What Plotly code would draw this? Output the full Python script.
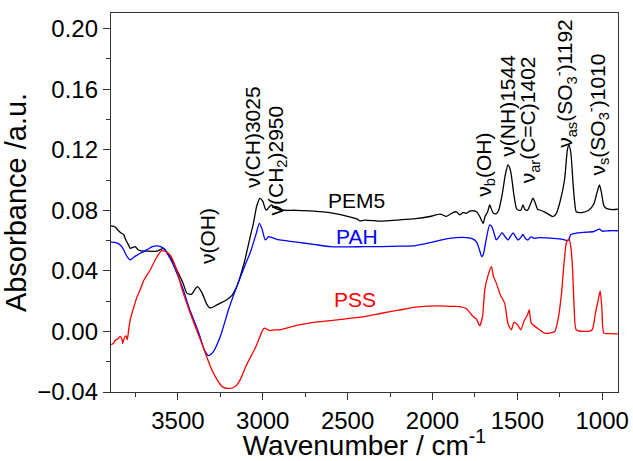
import plotly.graph_objects as go

# FTIR spectra: wavenumber (cm-1) and absorbance (a.u.)
pem5_wn = [3894, 3870, 3850, 3835, 3820, 3805, 3790, 3781, 3765, 3751, 3735, 3722, 3680, 3624,
           3585, 3550, 3506, 3470, 3447, 3420, 3395, 3385, 3360, 3330, 3310, 3270, 3212, 3180,
           3153, 3110, 3075, 3055, 3035, 3016, 3000, 2985, 2976, 2960, 2947, 2930, 2898, 2800,
           2700, 2604, 2500, 2440, 2428, 2400, 2300, 2212, 2100, 2016, 1955, 1918, 1880, 1859,
           1840, 1820, 1800, 1780, 1761, 1740, 1722, 1702, 1690, 1675, 1663, 1650, 1640, 1624,
           1610, 1590, 1570, 1555, 1540, 1520, 1505, 1496, 1480, 1467, 1455, 1440, 1420, 1408,
           1395, 1380, 1369, 1340, 1310, 1290, 1270, 1250, 1222, 1205, 1196, 1185, 1170, 1160,
           1153, 1120, 1080, 1050, 1030, 1016, 1005, 990, 976, 940, 908]
pem5_abs = [0.0697, 0.0690, 0.0665, 0.0650, 0.0640, 0.0600, 0.0570, 0.0549, 0.0555, 0.0560,
            0.0540, 0.0534, 0.0530, 0.0530, 0.0549, 0.0500, 0.0406, 0.0320, 0.0253, 0.0245,
            0.0285, 0.0296, 0.0260, 0.0180, 0.0154, 0.0175, 0.0209, 0.0240, 0.0296, 0.0450,
            0.0620, 0.0714, 0.0830, 0.0879, 0.0860, 0.0810, 0.0802, 0.0825, 0.0835, 0.0815,
            0.0802, 0.0800, 0.0795, 0.0785, 0.0760, 0.0740, 0.0730, 0.0735, 0.0728, 0.0735,
            0.0745, 0.0759, 0.0775, 0.0760, 0.0785, 0.0790, 0.0770, 0.0785, 0.0780, 0.0795,
            0.0797, 0.0790, 0.0760, 0.0714, 0.0760, 0.0790, 0.0835, 0.0800, 0.0780, 0.0778,
            0.0800, 0.0900, 0.1040, 0.1099, 0.1060, 0.0900, 0.0810, 0.0802, 0.0800, 0.0835,
            0.0805, 0.0800, 0.0850, 0.0880, 0.0850, 0.0805, 0.0802, 0.0790, 0.0770, 0.0758,
            0.0780, 0.0850, 0.1000, 0.1200, 0.1230, 0.1180, 0.0950, 0.0830, 0.0790, 0.0785,
            0.0800, 0.0840, 0.0920, 0.0967, 0.0920, 0.0830, 0.0813, 0.0805, 0.0807]

pah_wn = [3894, 3860, 3830, 3800, 3782, 3760, 3722, 3680, 3650, 3620, 3585, 3540, 3506, 3470,
          3430, 3390, 3370, 3345, 3320, 3295, 3250, 3200, 3153, 3100, 3075, 3040, 3020, 3005,
          2985, 2965, 2945, 2900, 2800, 2700, 2600, 2500, 2400, 2300, 2200, 2100, 2000, 1900,
          1800, 1760, 1740, 1722, 1710, 1700, 1685, 1663, 1650, 1635, 1624, 1605, 1590, 1575,
          1555, 1540, 1525, 1510, 1496, 1480, 1467, 1450, 1437, 1420, 1400, 1369, 1330, 1290,
          1240, 1205, 1196, 1185, 1150, 1100, 1050, 1016, 1000, 960, 908]
pah_abs = [0.0590, 0.0585, 0.0560, 0.0495, 0.0472, 0.0490, 0.0516, 0.0540, 0.0560, 0.0565,
           0.0549, 0.0470, 0.0385, 0.0280, 0.0143, 0.0030, -0.0033, -0.0120, -0.0159, -0.0140,
           -0.0033, 0.0150, 0.0296, 0.0450, 0.0516, 0.0640, 0.0714, 0.0680, 0.0604, 0.0626,
           0.0620, 0.0604, 0.0590, 0.0575, 0.0560, 0.0558, 0.0560, 0.0560, 0.0563, 0.0567,
           0.0590, 0.0615, 0.0620, 0.0610, 0.0590, 0.0535, 0.0494, 0.0510, 0.0600, 0.0703,
           0.0690, 0.0640, 0.0604, 0.0630, 0.0652, 0.0630, 0.0604, 0.0630, 0.0650, 0.0625,
           0.0604, 0.0620, 0.0640, 0.0610, 0.0604, 0.0625, 0.0615, 0.0620, 0.0618, 0.0615,
           0.0610, 0.0600, 0.0610, 0.0640, 0.0650, 0.0655, 0.0660, 0.0675, 0.0662, 0.0665,
           0.0665]

pss_wn = [3894, 3880, 3870, 3855, 3840, 3830, 3825, 3815, 3805, 3798, 3790, 3781, 3760, 3740,
          3722, 3700, 3663, 3630, 3595, 3560, 3540, 3500, 3480, 3420, 3360, 3300, 3260, 3235,
          3205, 3175, 3150, 3125, 3100, 3040, 3000, 2990, 2960, 2930, 2900, 2800, 2700, 2600,
          2500, 2400, 2300, 2200, 2100, 1955, 1900, 1840, 1800, 1760, 1740, 1722, 1705, 1692,
          1670, 1653, 1640, 1624, 1600, 1575, 1555, 1535, 1520, 1496, 1480, 1460, 1440, 1430,
          1418, 1380, 1340, 1310, 1280, 1260, 1240, 1225, 1210, 1196, 1185, 1175, 1165, 1153,
          1100, 1060, 1040, 1025, 1012, 1002, 990, 950, 908]
pss_abs = [-0.0087, -0.0080, -0.0060, -0.0050, -0.0033, -0.0050, -0.0080, -0.0040, -0.0030,
           -0.0055, 0.0010, 0.0077, 0.0160, 0.0230, 0.0275, 0.0340, 0.0406, 0.0480, 0.0534,
           0.0520, 0.0494, 0.0380, 0.0296, 0.0098, -0.0077, -0.0253, -0.0335, -0.0368, -0.0376,
           -0.0372, -0.0350, -0.0300, -0.0231, -0.0099, 0.0010, 0.0022, 0.0006, 0.0010, 0.0011,
           0.0040, 0.0060, 0.0072, 0.0085, 0.0098, 0.0120, 0.0140, 0.0160, 0.0169, 0.0165,
           0.0164, 0.0150, 0.0098, 0.0080, 0.0037, 0.0100, 0.0275, 0.0380, 0.0428, 0.0360,
           0.0319, 0.0240, 0.0187, 0.0050, 0.0011, 0.0060, 0.0040, 0.0010, 0.0070, 0.0110,
           0.0143, 0.0055, 0.0020, -0.0011, -0.0011, 0.0000, 0.0080, 0.0250, 0.0450, 0.0590,
           0.0609, 0.0560, 0.0420, 0.0150, 0.0011, 0.0000, 0.0010, 0.0121, 0.0200, 0.0268,
           0.0150, -0.0011, -0.0014, -0.0016]

series_names = ["PEM5", "PAH", "PSS"]
series_colors = ["#000000", "#0000ff", "#ff0000"]

# Band assignments: (label, wavenumber, absorbance at label centre)
band_labels = ["ν(OH)", "ν(CH)3025", "ν(CH<sub>2</sub>)2950", "ν<sub>b</sub>(OH)",
               "ν(NH)1544", "ν<sub>ar</sub>(C=C)1402",
               "ν<sub>as</sub>(SO<sub>3</sub><sup>-</sup>)1192",
               "ν<sub>s</sub>(SO<sub>3</sub><sup>-</sup>)1010"]
band_wn = [3322, 3057, 2915, 1692, 1556, 1426, 1221, 1027]
band_y = [0.0631, 0.1285, 0.1130, 0.1100, 0.1490, 0.1400, 0.1640, 0.1430]

# Series name labels placed beside each curve
name_wn = [2445, 2445, 2456]
name_y = [0.0868, 0.0624, 0.0209]

FONT = "Liberation Sans, Arial, sans-serif"

fig = go.Figure()
for wn, ab, nm, col in zip([pem5_wn, pah_wn, pss_wn], [pem5_abs, pah_abs, pss_abs],
                           series_names, series_colors):
    fig.add_trace(go.Scatter(x=wn, y=ab, mode="lines", name=nm,
                             line=dict(color=col, width=1.3, shape="spline", smoothing=0.6)))

for txt, x, y in zip(band_labels, band_wn, band_y):
    fig.add_annotation(x=x, y=y, xref="x", yref="y", text=txt, textangle=-90,
                       showarrow=False, xanchor="center", yanchor="middle",
                       font=dict(family=FONT, size=21, color="#000000"))

for nm, col, x, y in zip(series_names, series_colors, name_wn, name_y):
    fig.add_annotation(x=x, y=y, xref="x", yref="y", text=nm, showarrow=False,
                       xanchor="center", yanchor="middle",
                       font=dict(family=FONT, size=21, color=col))

axis_common = dict(showline=True, linecolor="#333333", linewidth=1.3, mirror=True,
                   ticks="outside", ticklen=7, tickwidth=1.3, tickcolor="#333333",
                   showgrid=False, zeroline=False,
                   tickfont=dict(family=FONT, size=24, color="#000000"))

fig.update_xaxes(range=[3894, 907], dtick=500, tick0=0,
                 minor=dict(dtick=250, ticks="outside", ticklen=4, tickcolor="#333333"),
                 title=dict(text="Wavenumber / cm<sup>-1</sup>", standoff=5,
                            font=dict(family=FONT, size=28, color="#000000")),
                 **axis_common)
fig.update_yaxes(range=[-0.04, 0.2103], dtick=0.04, tick0=0, tickformat=".2f",
                 minor=dict(dtick=0.02, ticks="outside", ticklen=4, tickcolor="#333333"),
                 title=dict(text="Absorbance /a.u.", standoff=4,
                            font=dict(family=FONT, size=29, color="#000000")),
                 **axis_common)

fig.update_layout(width=633, height=461, showlegend=False,
                  paper_bgcolor="white", plot_bgcolor="white",
                  margin=dict(l=111, r=15, t=13, b=69, autoexpand=False))

fig.write_html("out.html")
